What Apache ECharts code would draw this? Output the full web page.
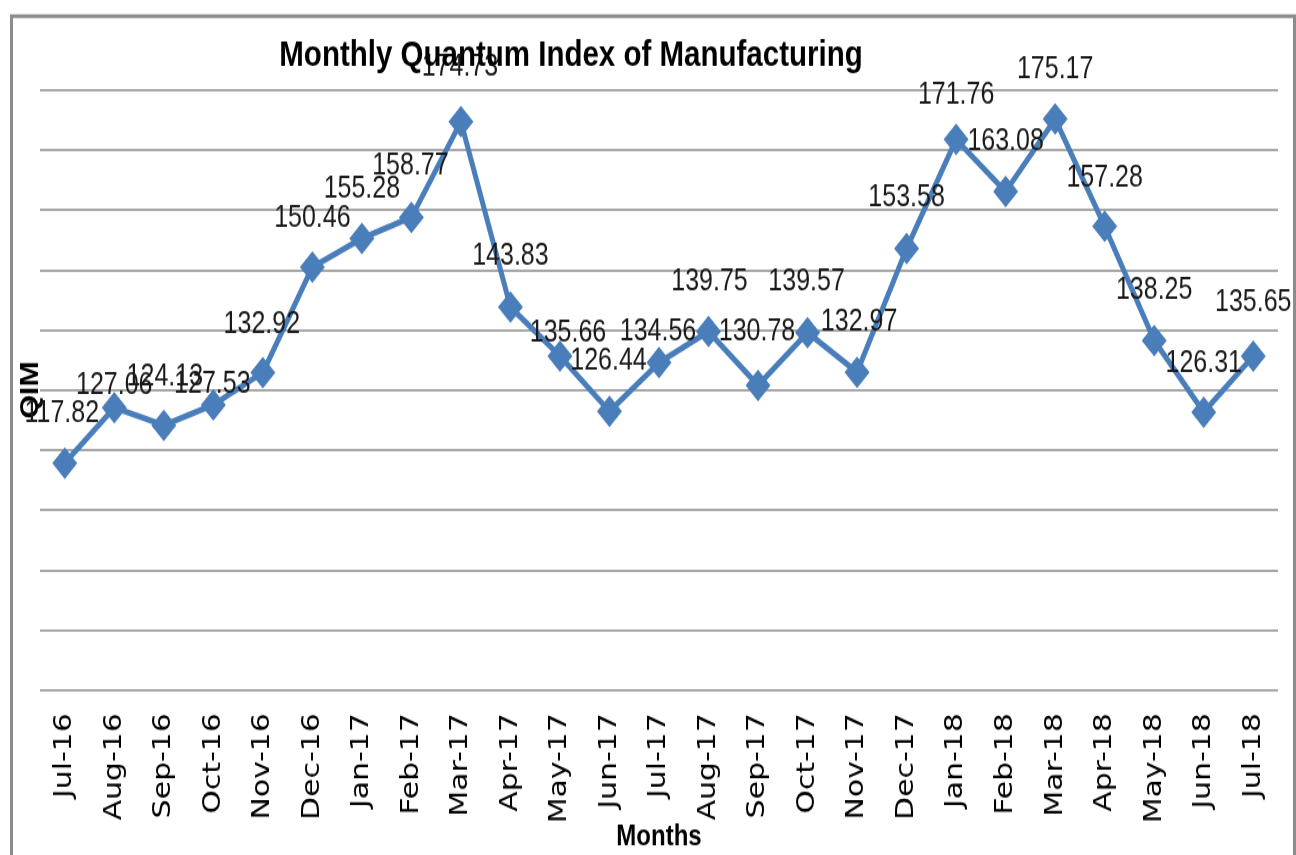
<!DOCTYPE html>
<html>
<head>
<meta charset="utf-8">
<script src="https://cdn.jsdelivr.net/npm/echarts@6/dist/echarts.min.js"></script>
<style>
html,body{margin:0;padding:0;background:#fff;overflow:hidden;}
#wrap{width:1296px;height:855px;overflow:hidden;}
#chart{width:1296px;height:701px;transform-origin:0 0;transform:scaleY(1.21969);}
</style>
</head>
<body>
<div id="wrap"><div id="chart"></div></div>
<script>
const months = ['Jul-16','Aug-16','Sep-16','Oct-16','Nov-16','Dec-16','Jan-17','Feb-17','Mar-17','Apr-17','May-17','Jun-17','Jul-17','Aug-17','Sep-17','Oct-17','Nov-17','Dec-17','Jan-18','Feb-18','Mar-18','Apr-18','May-18','Jun-18','Jul-18'];
const qim = [117.82,127.06,124.13,127.53,132.92,150.46,155.28,158.77,174.73,143.83,135.66,126.44,134.56,139.75,130.78,139.57,132.97,153.58,171.76,163.08,175.17,157.28,138.25,126.31,135.65];
// label placement offsets in picture pixels (style only)
const labelDx = [-3,0,1,-1,-1,0,0,-1,-1,0,8,-1,-1,1,-1,-1,2,0,0,0,0,0,0,0,0];
const labelDy = [-50,-22,-48,-20,-48,-49,-49,-51,-54,-51,-23,-50,-31,-50,-53,-51,-50,-51,-44,-50,-49,-48,-50,-48,-53];

const S = 855 / 701; // vertical stretch of the picture
const chart = echarts.init(document.getElementById('chart'));
const sans = "'Liberation Sans', Arial, sans-serif";
chart.setOption({
  backgroundColor: '#fff',
  animation: false,
  title: {
    text: 'Monthly Quantum Index of Manufacturing',
    left: 566, top: 31 / S, textAlign: 'center',
    textStyle: {fontFamily: sans, fontWeight: 'bold', fontSize: 29.5, color: '#000'}
  },
  graphic: [{
    type: 'rect', left: 9, top: 13 / S, silent: true,
    shape: {width: 1283, height: 760},
    style: {fill: 'none', stroke: '#8c8c8c', lineWidth: 3}
  }],
  grid: {left: 40, right: 18, top: 90 / S, bottom: 701 - 690 / S, containLabel: false, outerBoundsMode: 'none'},
  xAxis: {
    type: 'category', data: months, boundaryGap: true,
    axisLine: {show: false}, axisTick: {show: false},
    axisLabel: {rotate: 90, margin: 19, fontFamily: 'DejaVu Sans', fontSize: 24.5, color: '#000', interval: 0},
    name: 'Months', nameLocation: 'middle', nameGap: 133 / S, nameMoveOverlap: false,
    nameTextStyle: {fontFamily: sans, fontWeight: 'bold', fontSize: 24, color: '#000'}
  },
  yAxis: {
    type: 'value', min: 80, max: 180, interval: 10,
    axisLine: {show: false}, axisTick: {show: false}, axisLabel: {show: false},
    splitLine: {lineStyle: {color: '#8a8a8a', width: 1.5}},
    name: 'QIM', nameLocation: 'middle', nameGap: -4, nameRotate: 90, nameMoveOverlap: false,
    nameTextStyle: {fontFamily: sans, fontWeight: 'bold', fontSize: 25, color: '#000'}
  },
  series: [{
    type: 'line', data: qim.map((v, i) => ({
      value: v,
      label: {offset: [labelDx[i], labelDy[i] / S]}
    })),
    symbol: 'diamond', symbolSize: [25, 26],
    lineStyle: {color: '#4a7ebb', width: 5},
    itemStyle: {color: '#4a7ebb'},
    label: {
      show: true, position: 'inside',
      fontFamily: sans, fontSize: 25, color: '#1a1a1a',
      formatter: p => p.value.toFixed(2)
    },
    z: 3
  }]
});
</script>
</body>
</html>
